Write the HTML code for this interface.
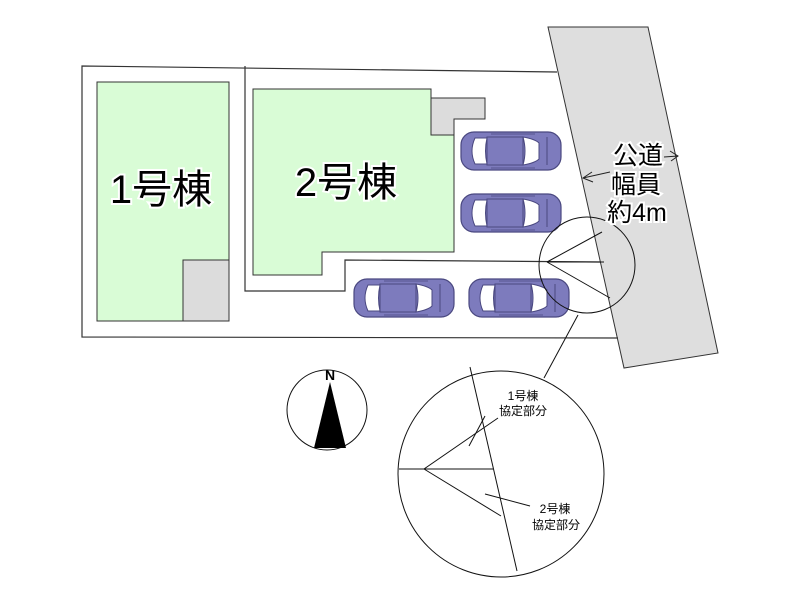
<!DOCTYPE html>
<html><head><meta charset="utf-8"><style>
body{margin:0;background:#fff;width:800px;height:600px;overflow:hidden}
svg text{font-family:"Liberation Sans","Noto Sans CJK JP",sans-serif}
</style></head><body>
<svg width="800" height="600" viewBox="0 0 800 600" xmlns="http://www.w3.org/2000/svg">
<defs>
<g id="car">
<rect x="-50" y="-19" width="100" height="38" rx="13" fill="#7d7bbd" stroke="#4a4880" stroke-width="1.2"/>
<path d="M-36,-13 Q-42,0 -36,13 L-24,13 Q-27,0 -24,-13 Z" fill="#fff" stroke="#4a4880"/>
<path d="M12,-14 Q24,-12 28,-8 L28,8 Q24,12 12,14 Q16,0 12,-14 Z" fill="#fff" stroke="#4a4880"/>
<rect x="-24" y="-14" width="36" height="28" fill="#7d7bbd" stroke="#4a4880"/>
<line x1="-20" y1="-17" x2="24" y2="-17" stroke="#4a4880" stroke-width="0.8"/>
<line x1="-20" y1="17" x2="24" y2="17" stroke="#4a4880" stroke-width="0.8"/>
<line x1="36" y1="-14" x2="36" y2="14" stroke="#4a4880"/>
</g>
</defs>
<polygon points="548,27 648,27 718,353 624,368" fill="#dedede" stroke="#333" stroke-width="1"/>
<polyline points="557,72 82,66 82,337 618,338" fill="none" stroke="#333" stroke-width="1.2"/>
<polyline points="245,66 245,291 345,291 345,260 600,262" fill="none" stroke="#333" stroke-width="1.2"/>
<rect x="97" y="82" width="132" height="239" fill="#d9fcd6" stroke="#333"/>
<rect x="183" y="260" width="46" height="61" fill="#dcdcdc" stroke="#333"/>
<polygon points="253,89 431,89 431,135 454,135 454,252 322,252 322,275 253,275" fill="#d9fcd6" stroke="#333"/>
<polygon points="431,98 485,98 485,119 454,119 454,135 431,135" fill="#dcdcdc" stroke="#333"/>
<text x="161" y="203" font-size="40" text-anchor="middle" fill="#000" stroke="#fff" stroke-width="4" paint-order="stroke">1号棟</text>
<text x="346" y="196" font-size="40" text-anchor="middle" fill="#000" stroke="#fff" stroke-width="4" paint-order="stroke">2号棟</text>
<use href="#car" x="511" y="151"/>
<use href="#car" x="511" y="213"/>
<use href="#car" x="404" y="298"/>
<use href="#car" x="519" y="298"/>
<circle cx="587" cy="265" r="48" fill="none" stroke="#111"/>
<polyline points="602,232 547,262 604,262" fill="none" stroke="#111"/>
<line x1="547" y1="262" x2="610" y2="298" stroke="#111"/>
<line x1="578" y1="315" x2="544" y2="378" stroke="#111"/>
<g fill="#000" stroke="#fff" stroke-width="4" paint-order="stroke" font-size="25" text-anchor="middle">
<text x="638" y="164">公道</text><text x="636" y="193">幅員</text><text x="637" y="221">約4m</text></g>
<g stroke="#222" fill="none"><line x1="583" y1="178" x2="610" y2="172"/><polyline points="592,172 583,178 593,182"/>
<line x1="664" y1="157" x2="678" y2="156"/><polyline points="670,151 678,156 671,161"/></g>
<circle cx="327" cy="410" r="40" fill="#fff" stroke="#111"/>
<polygon points="330,382 314,448 346,448" fill="#000"/>
<text x="330" y="380" font-size="14" font-weight="bold" text-anchor="middle" font-family="Liberation Serif">N</text>
<circle cx="501" cy="474" r="103" fill="#fff" stroke="#111"/>
<line x1="470" y1="367" x2="517" y2="571" stroke="#111"/>
<polyline points="498,418 424,469 493,469" fill="none" stroke="#111"/>
<line x1="399" y1="469" x2="424" y2="469" stroke="#111"/>
<line x1="424" y1="469" x2="501" y2="516" stroke="#111"/>
<line x1="469" y1="446" x2="485" y2="416" stroke="#111"/>
<line x1="485" y1="494" x2="530" y2="506" stroke="#111"/>
<g font-size="12" text-anchor="middle" fill="#000">
<text x="523" y="400">1号棟</text><text x="523" y="415">協定部分</text>
<text x="555" y="513">2号棟</text><text x="556" y="529">協定部分</text></g>
</svg>
</body></html>
